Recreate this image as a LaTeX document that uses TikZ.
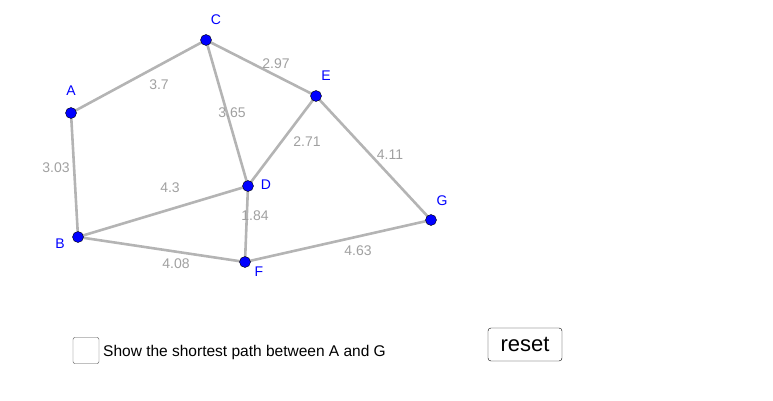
\documentclass[tikz,border=0pt]{standalone}
\usepackage{fontspec}
\setmainfont{Liberation Sans}
\definecolor{edgegray}{RGB}{180,180,180}
\definecolor{wgray}{RGB}{160,160,160}
\tikzstyle{vx}=[shape=circle,
                draw=black,
                fill=blue,
                inner sep=0pt,
                minimum width=11pt]
\tikzstyle{vl}=[text=blue,font=\fontsize{14}{16}\selectfont]
\tikzstyle{wt}=[text=wgray,font=\fontsize{14}{16}\selectfont]
\tikzstyle{ed}=[draw=edgegray,line width=2.6pt]

\begin{document}
\begin{tikzpicture}[x=1pt,y=-1pt]
\useasboundingbox (0,0) rectangle (773,401);

% edges
\coordinate (A) at (71,113);
\coordinate (B) at (78,237);
\coordinate (C) at (206,40);
\coordinate (D) at (248,186);
\coordinate (E) at (316,96);
\coordinate (F) at (245,262);
\coordinate (G) at (431,220);

\path[ed] (A) -- (C);
\path[ed] (A) -- (B);
\path[ed] (C) -- (E);
\path[ed] (C) -- (D);
\path[ed] (E) -- (D);
\path[ed] (E) -- (G);
\path[ed] (B) -- (D);
\path[ed] (B) -- (F);
\path[ed] (D) -- (F);
\path[ed] (F) -- (G);

% weights
\node[wt] (w1) at (159,85)  {3.7};
\node[wt] (w2) at (276,64)  {2.97};
\node[wt] (w3) at (232,113) {3.65};
\node[wt] (w4) at (56,168)  {3.03};
\node[wt] (w5) at (170,188) {4.3};
\node[wt] (w6) at (307,142) {2.71};
\node[wt] (w7) at (390,155) {4.11};
\node[wt] (w8) at (255,216) {1.84};
\node[wt] (w9) at (176,264) {4.08};
\node[wt] (w10) at (358,251) {4.63};

% vertices
\node[vx] (a) at (A) {};
\node[vx] (b) at (B) {};
\node[vx] (c) at (C) {};
\node[vx] (d) at (D) {};
\node[vx] (e) at (E) {};
\node[vx] (f) at (F) {};
\node[vx] (g) at (G) {};

\node[vl] (la) at (71,91)  {A};
\node[vl] (lb) at (60,244) {B};
\node[vl] (lc) at (216,20) {C};
\node[vl] (ld) at (266,185) {D};
\node[vl] (le) at (326,76) {E};
\node[vl] (lf) at (259,272) {F};
\node[vl] (lg) at (442,201) {G};

% controls
\node[draw=black!70,rounded corners=2pt,minimum size=26pt,inner sep=0pt] (box) at (86,350.5) {};
\node[anchor=west,inner sep=0pt,font=\fontsize{15.5}{18}\selectfont] (txt) at (103,352) {Show the shortest path between A and G};
\node[draw=black,rounded corners=3pt,minimum width=74pt,minimum height=33pt,inner sep=0pt,
      font=\fontsize{22}{24}\selectfont] (reset) at (525,344.5) {reset};

\end{tikzpicture}
\end{document}
